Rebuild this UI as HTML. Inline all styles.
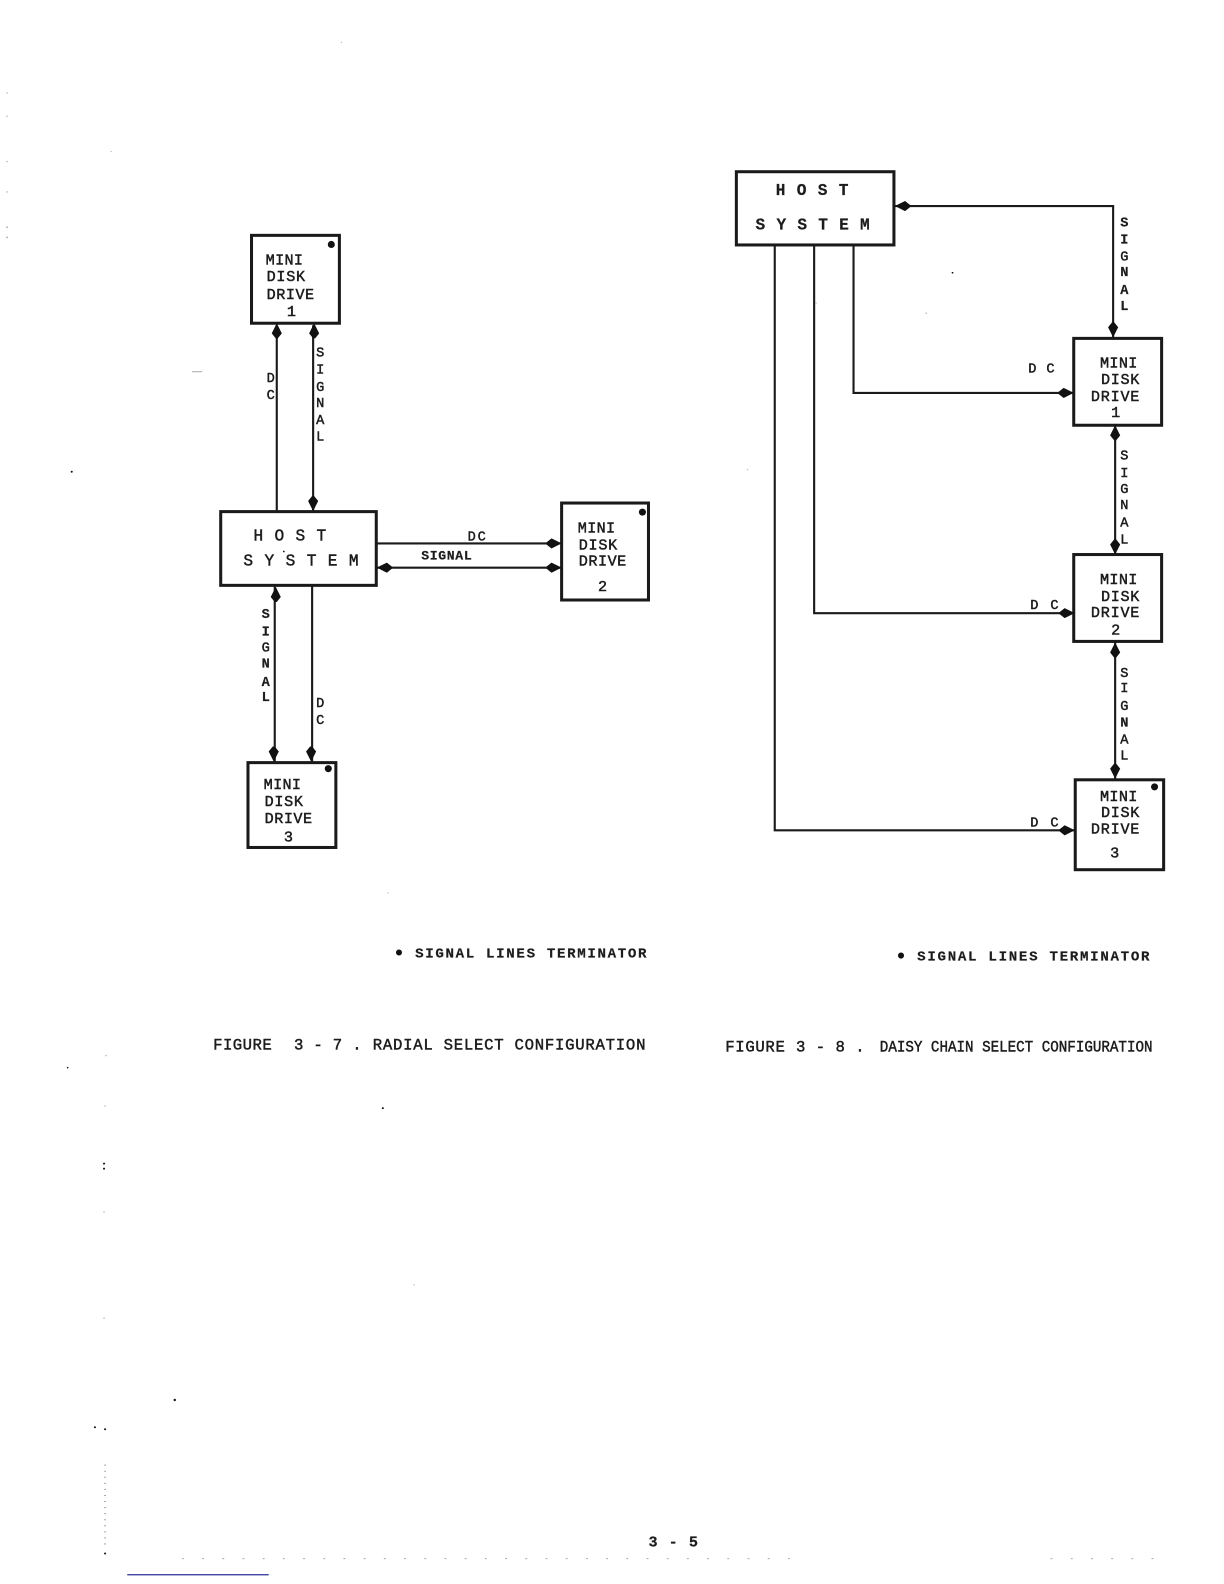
<!DOCTYPE html>
<html><head><meta charset="utf-8"><style>
html,body{margin:0;padding:0;background:#fff}
svg{display:block}
text{font-family:"Liberation Mono",monospace;font-size:15px;fill:#1c1c1c;stroke:#1c1c1c;stroke-width:.45}
.b{font-weight:bold;stroke-width:.2}
.h{font-size:16px}
.c{font-size:15.5px}
.s{font-size:13.5px}
.box{fill:#fff;stroke:#1a1a1a;stroke-width:3}
.l{fill:none;stroke:#1a1a1a;stroke-width:2.1}
.a{fill:#111;stroke:none}
</style></head><body>
<svg width="1224" height="1584" viewBox="0 0 1211.76 1568.16" xmlns="http://www.w3.org/2000/svg">
<!-- lines -->
<path class="l" d="M274 322V506M310 322V506M272 580V754M309 580V754M373 538H556M373 562H556"/>
<path class="l" d="M767 243V822H1064M806 243V607H1064M845 243V389H1063M886 204H1102V334M1104 422V548M1104 636V771"/>
<!-- boxes -->
<rect class="box" x="249" y="233" width="87" height="87"/>
<rect class="box" x="218.500" y="506.500" width="154" height="73"/>
<rect class="box" x="556" y="498" width="86" height="96"/>
<rect class="box" x="245.500" y="755" width="87" height="84"/>
<rect class="box" x="729" y="170" width="156" height="72.500"/>
<rect class="box" x="1063" y="335" width="87" height="86"/>
<rect class="box" x="1063" y="549" width="87" height="86"/>
<rect class="box" x="1064.500" y="772" width="87.500" height="89"/>
<!-- terminators -->
<circle class="a" cx="328" cy="242" r="3.500"/>
<circle class="a" cx="636" cy="507" r="3.500"/>
<circle class="a" cx="325" cy="761" r="3.500"/>
<circle class="a" cx="1143" cy="779" r="3.500"/>
<!-- arrowheads: up -->
<path class="a" d="M274 320l-5 10 4 5h2l4-5zM311 320l-5 10 4 5h2l4-5zM273 581l-5 10 4 5h2l4-5zM1104 421l-5 10 4 5h2l4-5zM1104 636l-5 10 4 5h2l4-5z"/>
<!-- down -->
<path class="a" d="M310 506l-5-10 4-5h2l4 5zM271 754l-5-10 4-5h2l4 5zM308 754l-5-10 4-5h2l4 5zM1102 334l-5-10 4-5h2l4 5zM1104 549l-5-10 4-5h2l4 5zM1104 771l-5-10 4-5h2l4 5z"/>
<!-- right -->
<path class="a" d="M556 538l-10-5-5 4v2l5 4zM556 562l-10-5-5 4v2l5 4zM1063 389l-10-5-5 4v2l5 4zM1064 607l-10-5-5 4v2l5 4zM1064 822l-10-5-5 4v2l5 4z"/>
<!-- left -->
<path class="a" d="M373 562l10-5 5 4v2l-5 4zM886 204l10-5 5 4v2l-5 4z"/>
<!-- Left drive 1 -->
<text x="263" y="262" textLength="37">MINI</text>
<text x="264" y="278" textLength="38">DISK</text>
<text x="264" y="296" textLength="47">DRIVE</text>
<text x="284" y="313">1</text>
<!-- side labels -->
<text class="s" x="264" y="378">D</text><text class="s" x="264" y="395">C</text>
<text class="s" x="313" y="353">S</text><text class="s" x="313" y="370">I</text><text class="s" x="313" y="387">G</text><text class="s" x="313" y="403">N</text><text class="s" x="313" y="420">A</text><text class="s" x="313" y="436">L</text>
<!-- Host left -->
<text class="h" x="251" y="535" textLength="72">H O S T</text>
<text class="h" x="241" y="560" textLength="114">S Y S T E M</text>
<circle class="a" cx="281" cy="546" r=".9"/>
<!-- horizontal -->
<text class="s" x="463" y="535" textLength="18">DC</text>
<text class="b" x="417" y="554" textLength="50" style="font-size:13px">SIGNAL</text>
<!-- drive 2 -->
<text x="572" y="527" textLength="37">MINI</text>
<text x="573" y="544" textLength="38">DISK</text>
<text x="573" y="560" textLength="47">DRIVE</text>
<text x="592" y="585">2</text>
<!-- lower left -->
<text class="b s" x="259" y="612">S</text><text class="b s" x="259" y="629">I</text><text class="s" x="259" y="645">G</text><text class="b s" x="259" y="661">N</text><text class="b s" x="259" y="679">A</text><text class="b s" x="259" y="694">L</text>
<text class="s" x="313" y="700">D</text><text class="s" x="313" y="717">C</text>
<!-- drive 3 left -->
<text x="261" y="781" textLength="37">MINI</text>
<text x="262" y="798" textLength="38">DISK</text>
<text x="262" y="815" textLength="47">DRIVE</text>
<text x="281" y="833">3</text>
<!-- RIGHT: host -->
<text class="h b" x="768" y="193" textLength="72">H O S T</text>
<text class="h b" x="748" y="227" textLength="113">S Y S T E M</text>
<text class="b s" x="1109" y="224">S</text><text class="b s" x="1109" y="241">I</text><text class="s" x="1109" y="258">G</text><text class="b s" x="1109" y="273">N</text><text class="b s" x="1109" y="291">A</text><text class="b s" x="1109" y="307">L</text>
<text class="s" x="1018" y="369" textLength="26">D C</text>
<text x="1089" y="364" textLength="37">MINI</text>
<text x="1090" y="380" textLength="38">DISK</text>
<text x="1080" y="397" textLength="48">DRIVE</text>
<text x="1100" y="413">1</text>
<text class="s" x="1109" y="455">S</text><text class="s" x="1109" y="472">I</text><text class="s" x="1109" y="488">G</text><text class="s" x="1109" y="504">N</text><text class="s" x="1109" y="521">A</text><text class="s" x="1109" y="538">L</text>
<text class="s" x="1020" y="603" textLength="28">D C</text>
<text x="1089" y="578" textLength="37">MINI</text>
<text x="1090" y="595" textLength="38">DISK</text>
<text x="1080" y="611" textLength="48">DRIVE</text>
<text x="1100" y="628">2</text>
<text class="s" x="1109" y="670">S</text><text class="s" x="1109" y="685">I</text><text class="s" x="1109" y="703">G</text><text class="b s" x="1109" y="719">N</text><text class="s" x="1109" y="736">A</text><text class="s" x="1109" y="752">L</text>
<text class="s" x="1020" y="818" textLength="28">D C</text>
<text x="1089" y="793" textLength="37">MINI</text>
<text x="1090" y="809" textLength="38">DISK</text>
<text x="1080" y="825" textLength="48">DRIVE</text>
<text x="1099" y="849">3</text>
<!-- captions -->
<circle class="a" cx="395" cy="943" r="3"/>
<text class="b" x="411" y="948" textLength="229" style="font-size:14px">SIGNAL LINES TERMINATOR</text>
<circle class="a" cx="892" cy="946" r="3"/>
<text class="b" x="908" y="951" textLength="230" style="font-size:14px">SIGNAL LINES TERMINATOR</text>
<text class="c" x="211" y="1039" textLength="58">FIGURE</text>
<text class="c" x="291" y="1039" textLength="67">3 - 7 .</text>
<text class="c" x="369" y="1039" textLength="270">RADIAL SELECT CONFIGURATION</text>
<text class="c" x="718" y="1041" textLength="59">FIGURE</text>
<text class="c" x="788" y="1041" textLength="68">3 - 8 .</text>
<text class="c" x="871" y="1041" textLength="270" lengthAdjust="spacingAndGlyphs">DAISY CHAIN SELECT CONFIGURATION</text>
<text class="b" x="642" y="1531" textLength="49">3 - 5</text>
<!-- specks -->
<path d="M190 368h10" stroke="#aaa" stroke-width="1" fill="none"/>
<path d="M126 1559H266" stroke="#2a2f9a" stroke-width="1.200" fill="none"/>
<g class="a"><circle cx="173" cy="1386" r="1.200"/><circle cx="103" cy="1152" r="1"/><circle cx="103" cy="1157" r="1"/><circle cx="71" cy="467" r="1"/><circle cx="104" cy="1538" r="1"/><circle cx="104" cy="1415" r="1"/><circle cx="94" cy="1413" r="1"/><circle cx="379" cy="1097" r="1"/><circle cx="943" cy="270" r=".9"/><circle cx="67" cy="1057" r=".8"/></g>
<g fill="#bbb"><circle cx="7" cy="92" r=".8"/><circle cx="7" cy="115" r=".8"/><circle cx="7" cy="160" r=".8"/><circle cx="7" cy="190" r=".8"/><circle cx="7" cy="225" r="1"/><circle cx="7" cy="235" r="1"/><circle cx="338" cy="42" r=".7"/><circle cx="110" cy="150" r=".7"/><circle cx="917" cy="310" r=".8"/><circle cx="808" cy="300" r=".7"/><circle cx="740" cy="465" r=".7"/><circle cx="384" cy="884" r=".7"/><circle cx="105" cy="1045" r=".8"/><circle cx="104" cy="1095" r=".8"/><circle cx="103" cy="1200" r=".8"/><circle cx="103" cy="1305" r=".8"/><circle cx="410" cy="1272" r=".7"/></g>
<path d="M104 1450V1530" stroke="#555" stroke-width="1" stroke-dasharray="1 5" fill="none"/>
<path d="M180 1543H800M1040 1543H1145" stroke="#aaa" stroke-width="1" stroke-dasharray="2 18" fill="none"/>
</svg>
</body></html>
